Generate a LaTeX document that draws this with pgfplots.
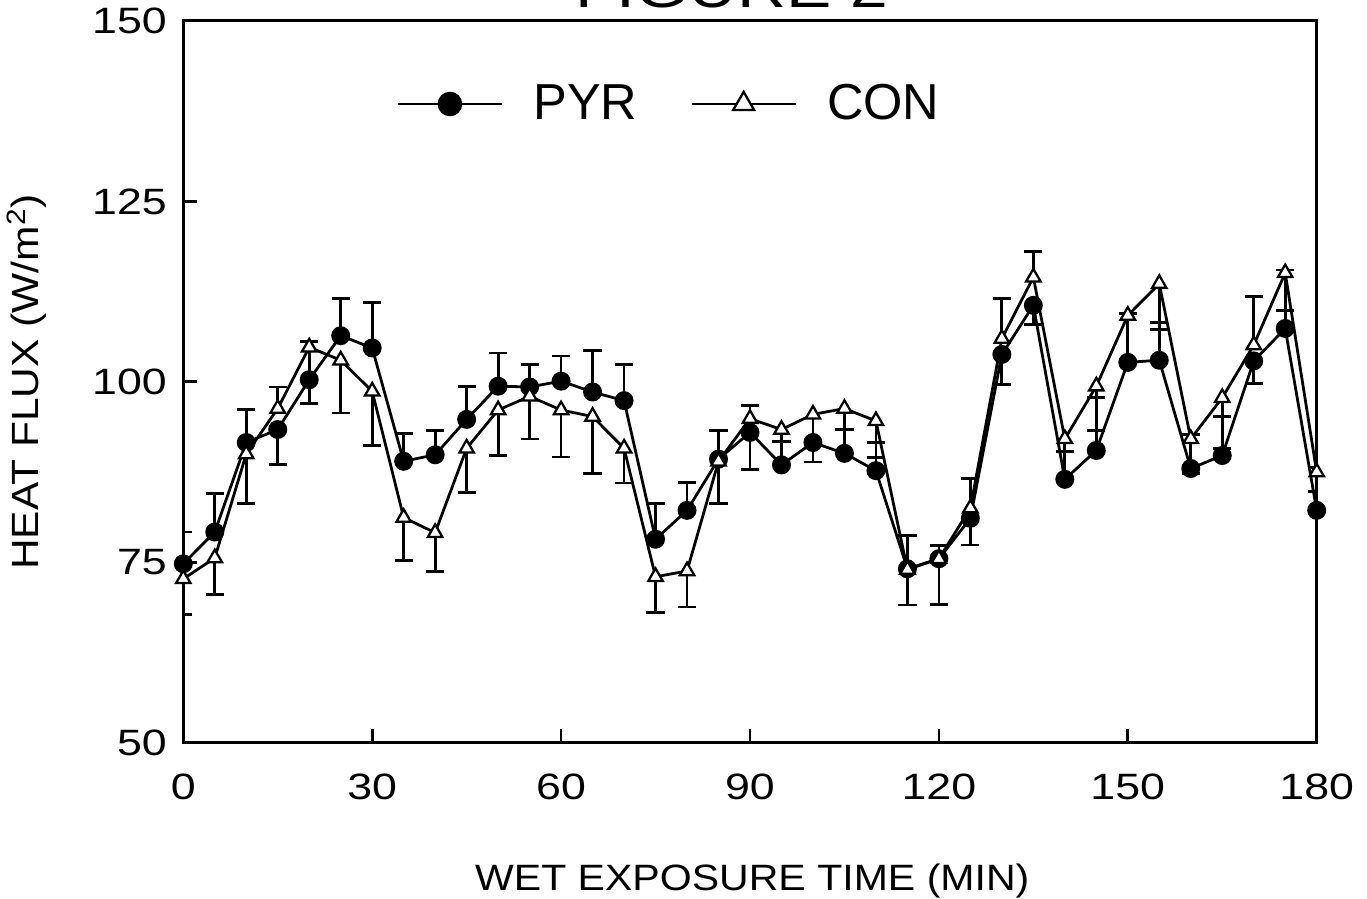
\documentclass[border=0pt]{standalone}
\usepackage{fontspec}
\setmainfont{Liberation Sans}
\newfontfamily\widefont{Liberation Sans}[FakeStretch=1.22]
\newfontfamily\labelfont{Liberation Sans}[FakeStretch=1.12]
\usepackage{pgfplots}
\usepackage{pgfplotstable}
\pgfplotsset{compat=1.18}

\pgfplotstableread{
x y
0 74.8
5 79.2
10 91.6
15 93.4
20 100.3
25 106.4
30 104.7
35 89.0
40 89.9
45 94.8
50 99.4
55 99.3
60 100.1
65 98.6
70 97.4
75 78.2
80 82.2
85 89.3
90 93.0
95 88.5
100 91.6
105 90.1
110 87.7
115 74.1
120 75.5
125 81.1
130 103.8
135 110.6
140 86.5
145 90.5
150 102.7
155 103.0
160 88.0
165 89.8
170 102.9
175 107.4
180 82.2
}\pyr

\pgfplotstableread{
x y
0 72.7
5 75.6
10 90.0
15 96.3
20 104.8
25 103.0
30 98.7
35 81.2
40 79.1
45 90.8
50 96.1
55 98.0
60 96.1
65 95.2
70 90.8
75 73.0
80 73.8
85 89.0
90 94.9
95 93.4
100 95.5
105 96.3
110 94.6
115 74.0
120 75.5
125 82.5
130 106.0
135 114.5
140 92.1
145 99.4
150 109.2
155 113.6
160 92.1
165 97.8
170 105.1
175 115.1
180 87.5
}\con

% upward error bars (x, base, error)
\pgfplotstableread{
x y e
0 74.8 4.4
5 79.2 5.3
10 91.6 4.6
15 96.3 3.0
20 100.3 5.3
25 106.4 5.2
30 104.7 6.3
35 89.0 3.8
40 89.9 3.4
45 94.8 4.6
50 99.4 4.6
55 99.3 3.1
60 100.1 3.5
65 98.6 5.8
70 97.4 5.0
75 78.2 5.0
80 82.2 3.9
85 89.3 4.0
90 94.9 1.8
95 88.5 3.2
105 90.1 3.3
110 87.7 3.9
115 74.1 4.6
120 75.5 1.8
125 82.5 4.1
130 106.0 5.6
135 114.5 3.6
140 86.5 3.9
145 90.5 7.3
150 102.7 6.8
155 103.0 5.2
160 88.0 4.7
165 89.8 5.4
170 105.1 6.7
175 107.4 8.1
180 82.2 5.9
}\errup

% downward error bars (x, base, error)
\pgfplotstableread{
x y e
0 72.7 4.9
5 75.6 5.1
10 90.0 6.8
15 93.4 4.9
20 104.8 7.8
25 103.0 7.3
30 98.7 7.5
35 81.2 6.0
40 79.1 5.4
45 90.8 6.1
50 96.1 6.3
55 98.0 5.9
60 96.1 6.5
65 95.2 7.9
70 90.8 4.8
75 73.0 5.0
80 73.8 5.0
85 89.0 5.9
90 93.0 5.1
95 93.4 1.7
100 95.5 6.6
105 96.3 2.9
110 94.6 5.1
115 74.0 4.9
120 75.5 6.3
125 81.1 3.7
130 103.8 4.2
135 110.6 2.7
140 92.1 1.7
145 99.4 6.1
150 109.2 6.3
155 113.6 6.3
160 92.1 4.8
165 97.8 7.0
170 102.9 3.1
175 115.1 5.2
180 87.5 2.7
}\errdown

\begin{document}
\begin{tikzpicture}
\begin{axis}[
  scale only axis, width=448.3pt, height=285.5pt,
  xmin=0, xmax=180, ymin=50, ymax=150,
  xtick={0,30,...,180}, ytick={50,75,...,150},
  tick align=inside, xtick pos=bottom, ytick pos=left,
  major tick length=5.5pt,
  axis line style={line width=1.2pt},
  tick style={line width=1.1pt, black},
  /pgf/number format/assume math mode=true,
  tick label style={font=\widefont\fontsize{14.5}{15}\selectfont},
  xticklabel style={yshift=-8.6pt},
  yticklabel style={xshift=-3pt},
  xlabel={WET EXPOSURE TIME (MIN)},
  ylabel={HEAT FLUX (W/m\textsuperscript{2})},
  xlabel style={at={(axis description cs:0.502,-0.191)}, anchor=center, font=\labelfont\fontsize{14.5}{16}\selectfont},
  ylabel style={at={(axis description cs:-0.138,0.5)}, anchor=center, font=\labelfont\fontsize{15}{16}\selectfont},
  title={FIGURE 2},
  title style={at={(axis description cs:0.484,1)}, anchor=base, yshift=-0.8pt, font=\widefont\fontsize{22}{24}\selectfont},
  legend columns=2,
  legend style={at={(axis description cs:0.43,0.885)}, anchor=center, draw=none, fill=none,
    font=\fontsize{20}{22}\selectfont,
    /tikz/every odd column/.append style={column sep=9.7pt},
    /tikz/every even column/.append style={column sep=19pt}},
]
\addplot[draw=none, forget plot, error bars/.cd, y dir=plus, y explicit,
  error bar style={draw=black, line width=1.1pt},
  error mark options={draw=black, rotate=90, mark size=3.6pt, line width=1.1pt}]
  table[x=x, y=y, y error=e] {\errup};
\addplot[draw=none, forget plot, error bars/.cd, y dir=minus, y explicit,
  error bar style={draw=black, line width=1.1pt},
  error mark options={draw=black, rotate=90, mark size=3.6pt, line width=1.1pt}]
  table[x=x, y=y, y error=e] {\errdown};
\addplot[black, line width=1.1pt, mark=*, mark size=3.2pt, mark options={fill=black, solid},
  legend image code/.code={\draw[mark repeat=2,mark phase=2,mark size=4.3pt] plot coordinates {(0cm,0cm)(0.72cm,0cm)(1.45cm,0cm)};}]
  table[x=x, y=y] {\pyr};
\addlegendentry{PYR}
\addplot[black, line width=1.1pt, mark=triangle*, mark size=3.3pt, mark options={fill=white, draw=black, line width=0.9pt, solid},
  legend image code/.code={\draw[mark repeat=2,mark phase=2,mark size=4.8pt] plot coordinates {(0cm,0cm)(0.72cm,0cm)(1.45cm,0cm)};}]
  table[x=x, y=y] {\con};
\addlegendentry{CON}
\end{axis}
\pgfresetboundingbox
\path[use as bounding box] ([xshift=-72.5pt,yshift=-61.7pt]current axis.south west) rectangle ([xshift=19.9pt,yshift=8.3pt]current axis.north east);
\end{tikzpicture}
\end{document}
